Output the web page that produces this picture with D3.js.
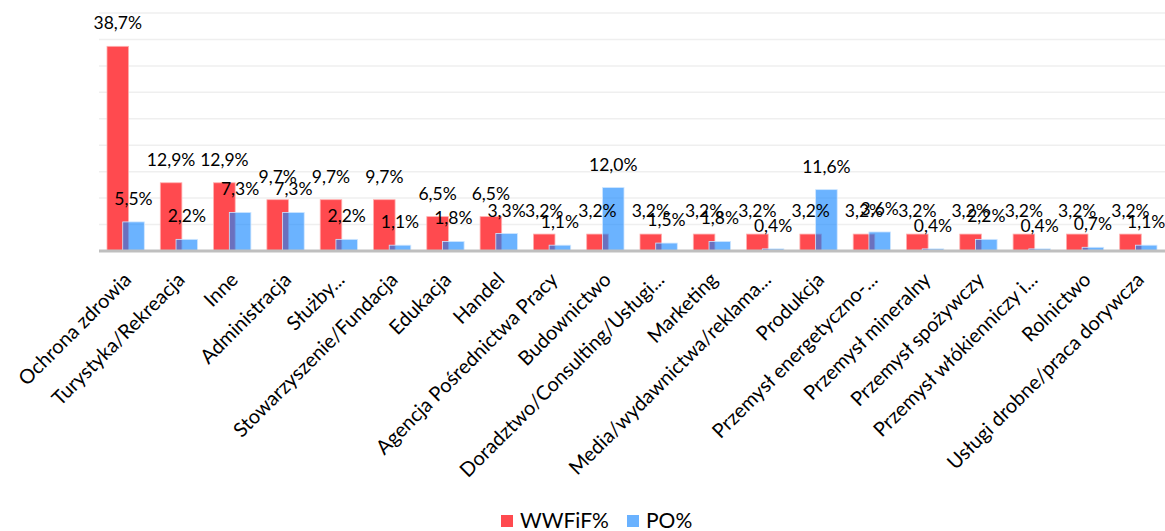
<!DOCTYPE html>
<html>
<head>
<meta charset="utf-8">
<script src="https://cdn.jsdelivr.net/npm/d3@7"></script>
<style>
  body { margin: 0; background: #fff; }
  svg text { font-family: Lato, "Open Sans", sans-serif; fill: #000; }
</style>
</head>
<body>
<svg id="chart" width="1165" height="531"></svg>
<script>
var categories = ["Ochrona zdrowia", "Turystyka/Rekreacja", "Inne", "Administracja", "Służby...",
  "Stowarzyszenie/Fundacja", "Edukacja", "Handel", "Agencja Pośrednictwa Pracy", "Budownictwo",
  "Doradztwo/Consulting/Usługi...", "Marketing", "Media/wydawnictwa/reklama...", "Produkcja",
  "Przemysł energetyczno-...", "Przemysł mineralny", "Przemysł spożywczy", "Przemysł włókienniczy i...",
  "Rolnictwo", "Usługi drobne/praca dorywcza"];
var wwfif = [38.7, 12.9, 12.9, 9.7, 9.7, 9.7, 6.5, 6.5, 3.2, 3.2, 3.2, 3.2, 3.2, 3.2, 3.2, 3.2, 3.2, 3.2, 3.2, 3.2];
var po = [5.5, 2.2, 7.3, 7.3, 2.2, 1.1, 1.8, 3.3, 1.1, 12.0, 1.5, 1.8, 0.4, 11.6, 3.6, 0.4, 2.2, 0.4, 0.7, 1.1];
var series_names = ["WWFiF%", "PO%"];
var y_ticks = [0, 5, 10, 15, 20, 25, 30, 35, 40, 45];

var red = "#ff4a4f";
var blue = "#1486ff";

var svg = d3.select("#chart");
var left = 99, right = 1165, top_y = 13, base_y = 251;

var x = d3.scaleBand().domain(categories).range([left, right]);
var y = d3.scaleLinear().domain([0, 45]).range([base_y, top_y]);

// offsets of the two bars inside a band (fractions of the band)
var bw = x.bandwidth();
var red_x = 0.15 * bw, bar_w = 0.405 * bw, blue_x = 0.445 * bw;

function fmt(v){ return v.toFixed(1).replace(".", ",") + "%"; }

// gridlines
svg.append("g").selectAll("line")
  .data(y_ticks.slice(1))
  .enter().append("line")
  .attr("x1", left).attr("x2", right)
  .attr("y1", function(d){ return y(d); })
  .attr("y2", function(d){ return y(d); })
  .attr("stroke", "#efefef")
  .attr("stroke-width", 1.5);

// red bars
svg.append("g").selectAll("rect")
  .data(wwfif)
  .enter().append("rect")
  .attr("x", function(d, i){ return x(categories[i]) + red_x; })
  .attr("y", function(d){ return y(d); })
  .attr("width", bar_w)
  .attr("height", function(d){ return base_y - y(d); })
  .attr("fill", red)
  .attr("stroke", "#ffb0b0")
  .attr("stroke-width", 0.8);

// blue bars (semi transparent, overlap the red ones)
svg.append("g").selectAll("rect")
  .data(po)
  .enter().append("rect")
  .attr("x", function(d, i){ return x(categories[i]) + blue_x; })
  .attr("y", function(d){ return y(d); })
  .attr("width", bar_w)
  .attr("height", function(d){ return Math.max(base_y - y(d), 1); })
  .attr("fill", blue)
  .attr("fill-opacity", 0.63)
  .attr("stroke", "#cfe6ff")
  .attr("stroke-width", 0.8);

// axis line
svg.append("line")
  .attr("x1", left).attr("x2", right)
  .attr("y1", base_y).attr("y2", base_y)
  .attr("stroke", "#bfbfbf")
  .attr("stroke-width", 3);

// value labels
svg.append("g").selectAll("text")
  .data(wwfif)
  .enter().append("text")
  .attr("x", function(d, i){ return x(categories[i]) + red_x + bar_w / 2; })
  .attr("y", function(d){ return y(d) - 17; })
  .attr("text-anchor", "middle")
  .style("font-size", "17.5px")
  .text(fmt);

svg.append("g").selectAll("text")
  .data(po)
  .enter().append("text")
  .attr("x", function(d, i){ return x(categories[i]) + blue_x + bar_w / 2; })
  .attr("y", function(d){ return y(d) - 17; })
  .attr("text-anchor", "middle")
  .style("font-size", "17.5px")
  .text(fmt);

// category labels
svg.append("g").selectAll("text")
  .data(categories)
  .enter().append("text")
  .attr("text-anchor", "end")
  .attr("transform", function(d){
    return "translate(" + (x(d) + bw / 2 + 7) + "," + 281 + ") rotate(-45)";
  })
  .style("font-size", "20px")
  .text(function(d){ return d; });

// legend
var legend = svg.append("g").attr("transform", "translate(501,515)");
var items = legend.selectAll("g")
  .data(series_names)
  .enter().append("g")
  .attr("transform", function(d, i){ return "translate(" + (i * 126) + ",0)"; });
items.append("rect")
  .attr("width", 12).attr("height", 12)
  .attr("fill", function(d, i){ return i == 0 ? red : "#6ab2ff"; });
items.append("text")
  .attr("x", 19).attr("y", 12.5)
  .style("font-size", "21px")
  .text(function(d){ return d; });
</script>
</body>
</html>
